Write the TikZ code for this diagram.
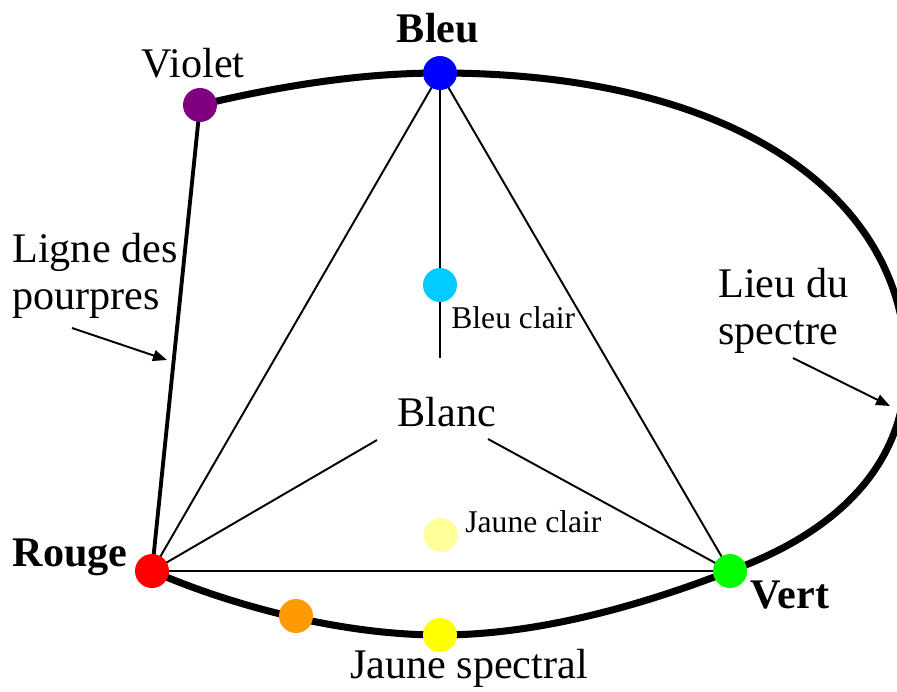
\documentclass[tikz,border=0pt]{standalone}
\usepackage{fontspec}
\setmainfont{Liberation Serif}
\usetikzlibrary{backgrounds,arrows.meta}
\definecolor{cviolet}{RGB}{128,0,128}
\definecolor{cbleu}{RGB}{0,0,255}
\definecolor{crouge}{RGB}{255,0,0}
\definecolor{corange}{RGB}{255,153,0}
\definecolor{cjaune}{RGB}{255,255,0}
\definecolor{cvert}{RGB}{0,255,0}
\definecolor{cbleuclair}{RGB}{0,204,255}
\definecolor{cjauneclair}{RGB}{255,255,153}

\begin{document}
\begin{tikzpicture}[x=0.02cm,y=-0.02cm,
  dot/.style={circle,inner sep=0pt,minimum size=0.68cm},
  big/.style={font=\fontsize{24}{27}\selectfont},
  bigb/.style={font=\fontsize{24}{27}\selectfont\bfseries},
  small/.style={font=\fontsize{18}{21}\selectfont},
  side/.style={line width=1.1pt},
  pointer/.style={line width=1.1pt,-{Triangle[length=0.28cm,width=0.22cm]}}]
\useasboundingbox (0,0) rectangle (897,691);

% colour points
\node[dot,fill=cviolet] (violet) at (200,105) {};
\node[dot,fill=cbleu] (bleu) at (440,73) {};
\node[dot,fill=crouge] (rouge) at (152,571) {};
\node[dot,fill=corange] (orange) at (296,616) {};
\node[dot,fill=cjaune] (jaune) at (440,635) {};
\node[dot,fill=cvert] (vert) at (730,571) {};
\node[dot,fill=cbleuclair] (bleuclair) at (440,285) {};
\node[dot,fill=cjauneclair] (jauneclair) at (441,535) {};

% labels
\node[big] (lviolet) at (193,63) {Violet};
\node[bigb] (lbleu) at (438,28) {Bleu};
\node[bigb] (lrouge) at (70,557) {Rouge};
\node[bigb] (lvert) at (790,595) {Vert};
\node[big] (ljaune) at (469,668) {Jaune spectral};
\node[big] (lblanc) at (447,412) {Blanc};
\node[small,anchor=west,inner sep=0pt] (lbleuclair) at (451,318) {Bleu clair};
\node[small,anchor=west,inner sep=0pt] (ljauneclair) at (465,522) {Jaune clair};
\node[big,anchor=west,inner sep=0pt,align=left] (lpourpres) at (12,276) {Ligne des\\pourpres};
\node[big,anchor=west,inner sep=0pt,align=left] (lspectre) at (718,311) {Lieu du\\spectre};

\coordinate (droite) at (906,366);
\coordinate (blancn) at (440,358);
\coordinate (blancsw) at (377,440);
\coordinate (blancse) at (488,439);
\coordinate (ppied) at (72,328);
\coordinate (ptip) at (167,360);
\coordinate (spied) at (793,358);
\coordinate (stip) at (890,406);

\begin{scope}[on background layer]
\begin{scope}
\clip (0,0) rectangle (897,691);
\draw[line width=4pt] (violet.center) .. controls (280,86) and (360,73) .. (bleu.center)
  .. controls (740,73) and (906,200) .. (droite)
  .. controls (906,470) and (830,535) .. (vert.center)
  .. controls (630,610) and (530,635) .. (jaune.center)
  .. controls (340,635) and (230,605) .. (rouge.center);
\end{scope}
\draw[line width=2.2pt] (rouge.center) -- (violet.center);
\draw[side] (rouge.center) -- (bleu.center) -- (vert.center) -- (rouge.center);
\draw[side] (bleu.center) -- (blancn);
\draw[side] (rouge.center) -- (blancsw);
\draw[side] (vert.center) -- (blancse);
\end{scope}

\draw[pointer] (ppied) -- (ptip);
\draw[pointer] (spied) -- (stip);
\end{tikzpicture}
\end{document}
